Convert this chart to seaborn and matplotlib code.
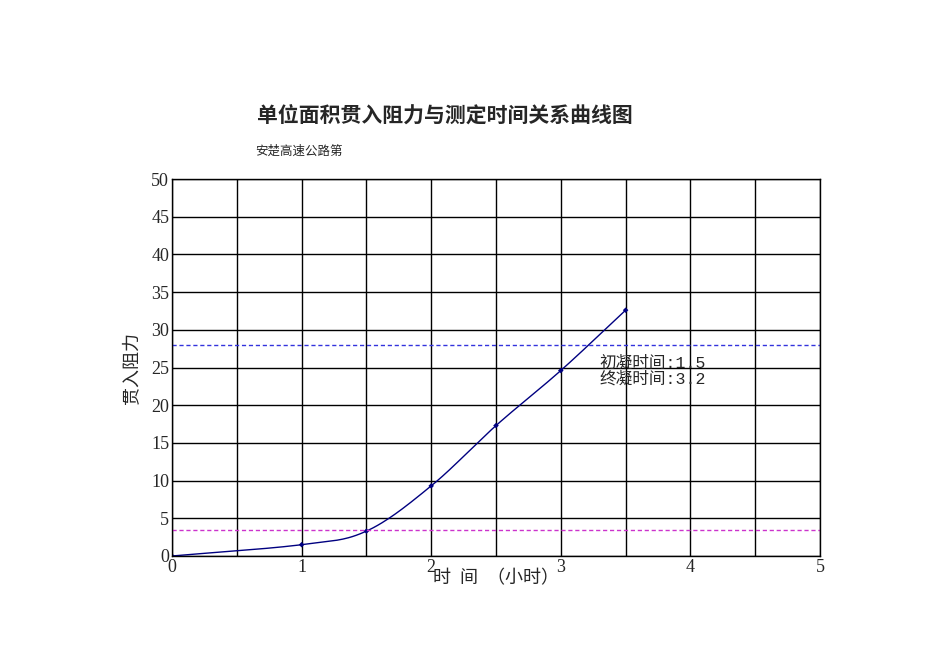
import numpy as np
import pandas as pd
import matplotlib
matplotlib.use("Agg")
import matplotlib.pyplot as plt
import seaborn as sns

# data
hours = [0, 1, 1.5, 2, 2.5, 3, 3.5]
resistance = [0, 1.5, 3.3, 9.3, 17.3, 24.6, 32.6]
initial_line = 3.5
final_line = 28
initial_time = 1.5
final_time = 3.2

sns.set_theme(style="white")
plt.rcParams['font.family'] = ['Liberation Serif', 'Noto Sans CJK SC', 'DejaVu Sans']

fig = plt.figure(figsize=(9.5, 6.72), dpi=100)
ax = fig.add_axes([172/950, 1-556/672, (820-172)/950, (556-179)/672])

# smooth curve through points (Catmull-Rom)
x = np.array(hours, float); y = np.array(resistance, float)
px = np.concatenate([[2*x[0]-x[1]], x, [2*x[-1]-x[-2]]])
py = np.concatenate([[2*y[0]-y[1]], y, [2*y[-1]-y[-2]]])
sx, sy = [], []
t = np.linspace(0, 1, 30)
for i in range(1, len(px)-2):
    for arr, out in ((px, sx), (py, sy)):
        p0, p1, p2, p3 = arr[i-1:i+3]
        out.extend(0.5*((2*p1) + (-p0+p2)*t + (2*p0-5*p1+4*p2-p3)*t**2 + (-p0+3*p1-3*p2+p3)*t**3))
curve = pd.DataFrame({"h": sx, "r": sy})
sns.lineplot(data=curve, x="h", y="r", ax=ax, color="#000080", lw=1, sort=False)
sns.scatterplot(x=hours, y=resistance, ax=ax, color="#000080", s=8, marker="D", edgecolor="none")

ax.axhline(final_line, color="#3333dd", ls=(0, (3, 2)), lw=1)
ax.axhline(initial_line, color="#cc33cc", ls=(0, (3, 2)), lw=1)

ax.set_xlim(0, 5); ax.set_ylim(0, 50)
ax.set_xticks(np.arange(0, 5.01, 1)); ax.set_yticks(np.arange(0, 51, 5))
ax.set_xticks(np.arange(0, 5.01, 0.5), minor=True)
ax.grid(True, which="both", axis="x", color="black", lw=1)
ax.grid(True, which="major", axis="y", color="black", lw=1)
for s in ax.spines.values():
    s.set_color("black"); s.set_linewidth(1)
ax.tick_params(labelsize=13, pad=2, length=0)
ax.set_xlabel("时  间  （小时）", fontsize=13, labelpad=-4)
ax.set_ylabel("贯入阻力", fontsize=13, labelpad=8)

ax.text(3.3, 24.5, f"初凝时间:{initial_time}\n终凝时间:{final_time}", fontsize=12,
        family=['Liberation Mono', 'Noto Sans CJK SC'], va="center", linespacing=1.0)

fig.text(445/950, 1-115/672, "单位面积贯入阻力与测定时间关系曲线图", fontsize=15, fontweight="bold",
         ha="center", va="center", family=['Noto Sans CJK SC'])
fig.text(255/950, 1-151/672, "安楚高速公路第", fontsize=9, va="center", family=['Noto Sans CJK SC'])

fig.savefig("out.png", dpi=100)
